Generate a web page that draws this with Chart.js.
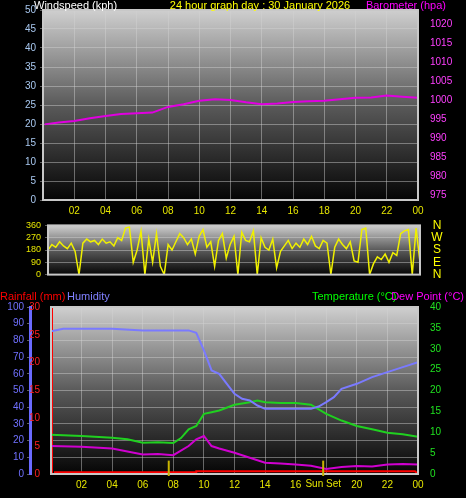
<!DOCTYPE html>
<html>
<head>
<meta charset="utf-8">
<script src="https://cdn.jsdelivr.net/npm/chart.js@4.4.1/dist/chart.umd.min.js"></script>
<style>
  body { margin: 0; background: #000; width: 466px; height: 498px; overflow: hidden; }
  canvas { position: absolute; left: 0; }
</style>
</head>
<body>
<canvas id="top" width="466" height="216" style="top:0"></canvas>
<canvas id="mid" width="466" height="68" style="top:216px"></canvas>
<canvas id="bot" width="466" height="214" style="top:284px"></canvas>
<script>
// ---- data ----
const xTickHours = [2, 4, 6, 8, 10, 12, 14, 16, 18, 20, 22, 24];

const baroHours = [0.1, 1, 2, 3, 4, 5, 6, 7, 8, 9, 10, 11, 12, 13, 14, 15, 16, 17, 18, 19, 20, 21, 22, 23, 24];
const baroValues = [993.7, 994.2, 994.6, 995.3, 995.9, 996.4, 996.6, 996.8, 998.3, 999.0, 999.9, 1000.3, 1000.1, 999.5, 999.0, 999.2, 999.6, 999.8, 999.9, 1000.3, 1000.7, 1000.8, 1001.3, 1001.0, 1000.7];
const windHours = [0, 24];
const windValues = [0, 0];

// wind direction, every 15 minutes
const dirValues = [
  180, 220, 200, 240,  210, 190, 230, 170,  0, 230, 260, 240,  250, 220, 260, 230,
  240, 210, 270, 250,  340, 350, 90, 180,   320, 0, 260, 90,   300, 60, 0, 220,
  180, 240, 300, 270,  220, 260, 150, 280,  330, 200, 240, 60,  250, 300, 120, 220,
  280, 0, 310, 250,    240, 320, 0, 270,    200, 180, 260, 50,  170, 210, 250, 190,
  230, 200, 260, 220,  280, 210, 190, 250,  230, 0, 200, 260,   220, 190, 240, 100,
  90, 330, 340, 0,     80, 130, 110, 150,   90, 160, 140, 300,  320, 330, 0, 340,
  90
];

const humHours = [0, 0.8, 2, 4, 6, 7, 8, 9, 9.5, 10, 10.5, 11, 11.5, 12, 12.5, 13, 13.5, 14, 15, 16, 17, 17.5, 18, 18.5, 19, 20, 21, 22, 23, 24];
const humValues = [85.5, 87, 87, 87, 86, 86, 86, 86, 84.5, 74, 62, 60, 54, 48, 45, 44, 41, 39, 39, 39, 39, 40.4, 43, 46, 51, 54, 58, 61, 64, 67];

const tempHours = [0, 2, 4, 5, 6, 7, 8, 8.5, 9, 9.5, 10, 10.5, 11, 12, 13, 13.5, 14, 15, 16, 17, 18, 19, 20, 21, 22, 23, 24];
const tempValues = [9.4, 9.1, 8.7, 8.3, 7.5, 7.6, 7.4, 8.6, 10.7, 11.5, 14.4, 14.8, 15.2, 16.6, 17.2, 17.6, 17.2, 17.0, 17.0, 16.6, 14.4, 12.8, 11.5, 10.7, 9.9, 9.5, 8.9];

const dewHours = [0, 2, 4, 6, 7, 8, 9, 9.5, 10, 10.5, 11, 12, 13, 14, 15, 16, 17, 18, 19, 20, 21, 22, 23, 24];
const dewValues = [6.7, 6.5, 6.1, 4.7, 4.8, 4.5, 6.7, 8.3, 9.1, 6.7, 6.1, 5.1, 3.9, 2.7, 2.5, 2.3, 2.0, 1.2, 1.7, 1.9, 1.8, 2.3, 2.4, 2.3];

const rainHours = [0.2, 9.5, 9.5, 23.8, 24];
const rainValues = [0.3, 0.3, 0.5, 0.5, 0];

const sunHours = [7.7, 17.8];

// ---- helpers ----
const FONT = 'Liberation Sans';
Chart.defaults.font.family = FONT;
Chart.defaults.font.size = 10;
Chart.defaults.animation = false;
Chart.defaults.devicePixelRatio = 1;

const pts = (xs, ys) => xs.map((x, i) => ({ x: x, y: ys[i] }));
const fixWidth = w => scale => { scale.width = w; };
const fixHeight = h => scale => { scale.height = h; };
const setTicks = list => scale => { scale.ticks = list.map(v => ({ value: v })); };
const range = (a, b, s) => { const r = []; for (let v = a; v <= b + 1e-9; v += s) r.push(v); return r; };

const gridDots = { color: 'rgba(210,210,210,0.45)', tickLength: 3 };

const bgPlugin = {
  id: 'bg',
  beforeDraw(chart) {
    const a = chart.chartArea, c = chart.ctx;
    const g = c.createLinearGradient(0, a.top, 0, a.bottom);
    g.addColorStop(0, '#cfcfcf');
    g.addColorStop(0.5, '#5a5a5a');
    g.addColorStop(1, '#050505');
    c.save();
    c.fillStyle = g;
    c.fillRect(a.left, a.top, a.right - a.left, a.bottom - a.top);
    c.restore();
  },
  afterDraw(chart) {
    const a = chart.chartArea, c = chart.ctx;
    c.save();
    c.strokeStyle = '#c8c8c8';
    c.lineWidth = 2;
    c.strokeRect(a.left, a.top, a.right - a.left, a.bottom - a.top);
    c.restore();
  }
};

function textPlugin(items) {
  return {
    id: 'texts',
    afterDraw(chart) {
      const c = chart.ctx;
      c.save();
      c.font = '11px ' + FONT;
      c.textBaseline = 'alphabetic';
      items.forEach(t => {
        c.fillStyle = t.color;
        c.textAlign = t.align || 'left';
        c.fillText(t.text, t.x, t.y);
      });
      c.restore();
    }
  };
}

const xAxis = (show) => ({
  type: 'linear', min: 0, max: 24,
  display: show,
  afterBuildTicks: setTicks(xTickHours),
  afterFit: fixHeight(16),
  grid: { color: 'rgba(210,210,210,0.45)', drawTicks: false },
  border: { display: false },
  ticks: { color: '#e6e600', padding: 5, callback: v => String(v % 24).padStart(2, '0') }
});

// ---- top: windspeed + barometer ----
new Chart(document.getElementById('top'), {
  type: 'line',
  data: {
    datasets: [
      { data: pts(baroHours, baroValues), yAxisID: 'baro', borderColor: '#e000e0', borderWidth: 2, pointRadius: 0 },
      { data: pts(windHours, windValues), yAxisID: 'wind', borderColor: '#80e080', borderWidth: 2, pointRadius: 0 }
    ]
  },
  options: {
    responsive: false,
    layout: { padding: { top: 10 } },
    plugins: { legend: { display: false }, tooltip: { enabled: false } },
    scales: {
      x: xAxis(true),
      wind: {
        position: 'left', min: 0, max: 50,
        afterBuildTicks: setTicks(range(0, 50, 5)),
        afterFit: fixWidth(43),
        grid: gridDots,
        border: { color: '#888' },
        ticks: { color: '#a8c8f0', padding: 4, autoSkip: false }
      },
      baro: {
        position: 'right', min: 973.8, max: 1023.8,
        afterBuildTicks: setTicks(range(975, 1020, 5)),
        afterFit: fixWidth(48),
        grid: { display: false },
        border: { color: '#e000e0' },
        ticks: { color: '#ff40ff', padding: 4, autoSkip: false, callback: v => String(v) }
      }
    }
  },
  plugins: [bgPlugin, textPlugin([
    { text: 'Windspeed (kph)', x: 34, y: 9, color: '#ffffff' },
    { text: '24 hour graph day : 30 January 2026', x: 260, y: 9, color: '#ffff00', align: 'center' },
    { text: 'Barometer (hpa)', x: 446, y: 9, color: '#ff00ff', align: 'right' }
  ])]
});

// ---- middle: wind direction ----
new Chart(document.getElementById('mid'), {
  type: 'line',
  data: {
    datasets: [
      { data: pts(dirValues.map((v, i) => i * 0.25), dirValues), borderColor: '#f0f000', borderWidth: 1.5, pointRadius: 0 }
    ]
  },
  options: {
    responsive: false,
    layout: { padding: { top: 6, bottom: 4 } },
    plugins: { legend: { display: false }, tooltip: { enabled: false } },
    scales: {
      x: { type: 'linear', min: 0, max: 24, display: false },
      y: {
        position: 'left', min: 0, max: 360,
        afterBuildTicks: setTicks([0, 90, 180, 270, 360]),
        afterFit: fixWidth(48),
        grid: gridDots,
        border: { color: '#888' },
        ticks: { color: '#e6e600', padding: 4, autoSkip: false, font: { size: 9 } }
      },
      yr: {
        position: 'right', min: 0, max: 360, display: true,
        afterFit: fixWidth(46),
        grid: { display: false },
        border: { display: false },
        ticks: { display: false }
      }
    }
  },
  plugins: [bgPlugin, {
    id: 'compass',
    afterDraw(chart) {
      const c = chart.ctx, s = chart.scales.y;
      c.save();
      c.font = '12px ' + FONT;
      c.fillStyle = '#ffff00';
      c.textAlign = 'center';
      c.textBaseline = 'middle';
      ['N', 'E', 'S', 'W', 'N'].forEach((t, i) => c.fillText(t, 437, s.getPixelForValue(i * 90)));
      c.restore();
    }
  }]
});

// ---- bottom: rain, humidity, temperature, dew point ----
new Chart(document.getElementById('bot'), {
  type: 'line',
  data: {
    datasets: [
      { data: pts(humHours, humValues), yAxisID: 'hum', borderColor: '#7a7aff', borderWidth: 2, pointRadius: 0 },
      { data: pts(tempHours, tempValues), yAxisID: 'temp', borderColor: '#20d020', borderWidth: 2, pointRadius: 0 },
      { data: pts(dewHours, dewValues), yAxisID: 'temp', borderColor: '#d000d0', borderWidth: 2, pointRadius: 0 },
      { data: pts(rainHours, rainValues), yAxisID: 'rain', borderColor: '#ff0000', borderWidth: 2, pointRadius: 0 }
    ]
  },
  options: {
    responsive: false,
    layout: { padding: { top: 23, bottom: 8 } },
    plugins: { legend: { display: false }, tooltip: { enabled: false } },
    scales: {
      x: Object.assign(xAxis(true), {
        ticks: { color: '#e6e600', padding: 5, callback: v => v === 18 ? '' : String(v % 24).padStart(2, '0') }
      }),
      hum: {
        position: 'left', weight: 2, min: 0, max: 100,
        afterBuildTicks: setTicks(range(0, 100, 10)),
        afterFit: fixWidth(30),
        grid: gridDots,
        border: { color: '#6a6aff', width: 3 },
        ticks: { color: '#7070ff', padding: 3, autoSkip: false }
      },
      rain: {
        position: 'left', weight: 1, min: 0, max: 30,
        afterBuildTicks: setTicks(range(0, 30, 5)),
        afterFit: fixWidth(21),
        grid: { display: false },
        border: { color: '#ff0000', width: 3 },
        ticks: { color: '#ff2020', padding: 3, autoSkip: false }
      },
      temp: {
        position: 'right', min: 0, max: 40,
        afterBuildTicks: setTicks(range(0, 40, 5)),
        afterFit: fixWidth(48),
        grid: { display: false },
        border: { color: '#20c020' },
        ticks: { color: '#20e020', padding: 4, autoSkip: false }
      }
    }
  },
  plugins: [bgPlugin, textPlugin([
    { text: 'Rainfall (mm)', x: 0, y: 16, color: '#ff0000' },
    { text: 'Humidity', x: 67, y: 16, color: '#8080ff' },
    { text: 'Temperature (°C)', x: 312, y: 16, color: '#00ff00' },
    { text: 'Dew Point (°C)', x: 464, y: 16, color: '#ff00ff', align: 'right' }
  ]), {
    id: 'sun',
    afterDraw(chart) {
      const c = chart.ctx, x = chart.scales.x, y = chart.scales.hum;
      c.save();
      c.strokeStyle = '#c8b400';
      c.lineWidth = 2;
      sunHours.forEach(h => {
        const px = x.getPixelForValue(h);
        c.beginPath();
        c.moveTo(px, y.getPixelForValue(0) + 2);
        c.lineTo(px, y.getPixelForValue(8));
        c.stroke();
      });
      c.font = '10px ' + FONT;
      c.fillStyle = '#e6e600';
      c.textAlign = 'center';
      c.textBaseline = 'top';
      c.fillText('Sun Set', x.getPixelForValue(sunHours[1]), chart.chartArea.bottom + 5);
      c.restore();
    }
  }]
});
</script>
</body>
</html>
